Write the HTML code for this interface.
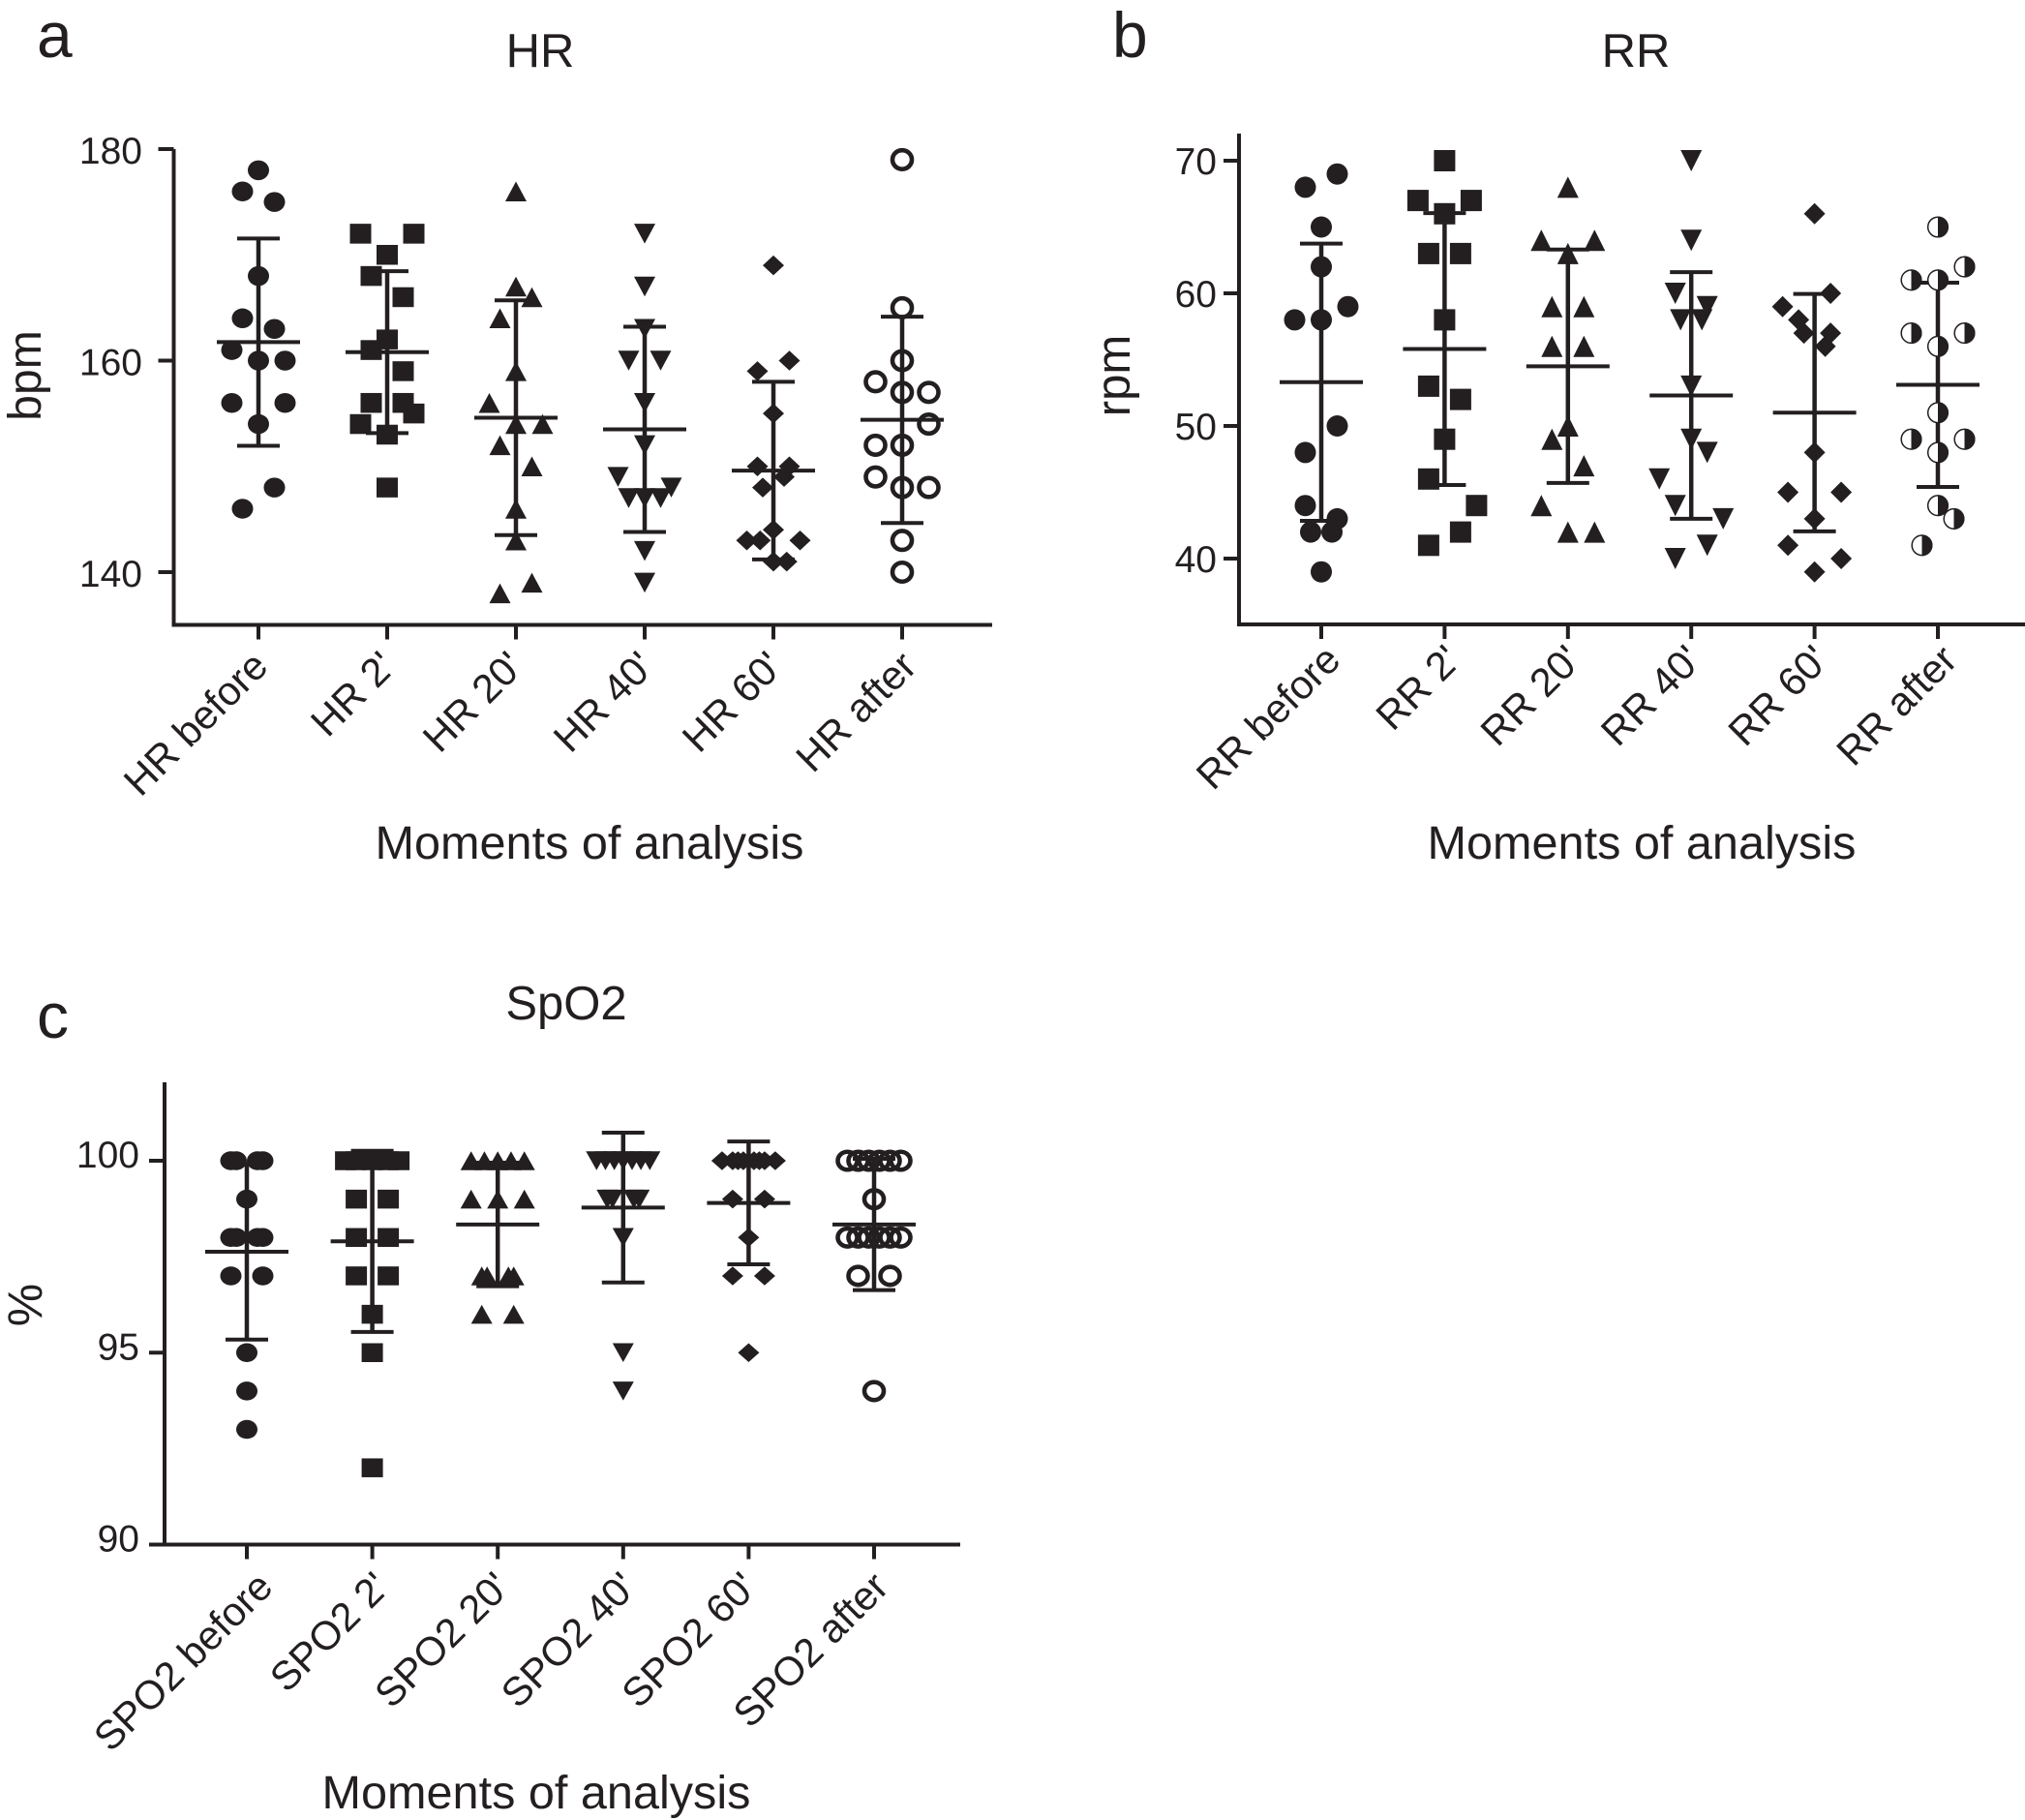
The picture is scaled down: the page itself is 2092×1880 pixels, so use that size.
<!DOCTYPE html>
<html lang="en">
<head>
<meta charset="utf-8">
<title>HR, RR and SpO2 across moments of analysis</title>
<style>
html,body{margin:0;padding:0;background:#fff}
svg{display:block}
text{font-family:"Liberation Sans",Arial,sans-serif;fill:#231f20}
</style>
</head>
<body>
<svg id="figure" xmlns="http://www.w3.org/2000/svg" width="2092" height="1880" viewBox="0 0 2092 1880">
  <rect x="0" y="0" width="2092" height="1880" fill="#fff"/>
  <text x="38" y="59" font-size="66">a</text>
  <text x="1149" y="59" font-size="66">b</text>
  <text x="38" y="1072" font-size="66">c</text>
  <text x="558" y="69" font-size="49" text-anchor="middle">HR</text>
  <text x="1690" y="69" font-size="49" text-anchor="middle">RR</text>
  <text x="585" y="1053" font-size="49" text-anchor="middle">SpO2</text>
  <text x="609" y="887" font-size="48.6" text-anchor="middle">Moments of analysis</text>
  <text x="1696" y="887" font-size="48.6" text-anchor="middle">Moments of analysis</text>
  <text x="554" y="1868" font-size="48.6" text-anchor="middle">Moments of analysis</text>
  <text transform="translate(42 388) rotate(-90)" font-size="48" text-anchor="middle">bpm</text>
  <text transform="translate(1167 388) rotate(-90)" font-size="49" text-anchor="middle">rpm</text>
  <text transform="translate(43 1348) rotate(-90)" font-size="50" text-anchor="middle">%</text>
</svg>
<script>
// ---- HR data ----
const hrCategories = ["HR before", "HR 2'", "HR 20'", "HR 40'", "HR 60'", "HR after"];
const hrTicks = [140, 160, 180];
const hrMeans = [161.75, 160.8, 154.6, 153.5, 149.6, 154.4];
const hrSds = [9.8, 7.65, 11.1, 9.7, 8.4, 9.75];
const hrValues = [
  [178,176,175,168,164,163,161,160,160,156,156,154,148,146],
  [172,172,170,168,166,162,161,159,156,156,155,154,153,148],
  [176,167,166,164,159,156,154,154,152,150,146,143,139,138],
  [172,167,163,160,160,156,152,149,148,147,147,147,142,139],
  [169,160,159,155,150,150,149,148,144,143,143,143,141,141],
  [179,165,160,158,157,157,154,152,152,149,148,148,143,140]
];
const hrSwarmRanks = [
  [0,-3,3,0,-3,3,-5,0,5,-5,5,0,3,-3],
  [-5,5,0,-3,3,0,-3,3,-3,3,5,-5,0,0],
  [0,0,3,-3,0,-5,0,5,-3,3,0,0,3,-3],
  [0,0,0,-3,3,0,0,-5,5,-3,0,3,0,0],
  [0,3,-3,0,-3,3,2,-2,0,-5,-2.5,5,0,2.5],
  [0,0,0,-5,0,5,5,-5,0,-5,0,5,0,0]
];

// ---- RR data ----
const rrCategories = ["RR before", "RR 2'", "RR 20'", "RR 40'", "RR 60'", "RR after"];
const rrTicks = [40, 50, 60, 70];
const rrMeans = [53.3, 55.8, 54.5, 52.3, 51, 53.1];
const rrSds = [10.45, 10.25, 8.8, 9.3, 8.95, 7.7];
const rrValues = [
  [69,68,65,62,59,58,58,50,48,44,43,42,42,39],
  [70,67,67,66,63,63,58,53,52,49,46,44,42,41],
  [68,64,64,63,59,59,56,56,50,49,47,44,42,42],
  [70,64,60,59,58,58,53,49,48,46,44,43,41,40],
  [66,60,59,58,57,57,56,48,45,45,43,41,40,39],
  [65,62,61,61,57,57,56,51,49,49,48,44,43,41]
];
const rrSwarmRanks = [
  [3,-3,0,0,5,-5,0,3,-3,-3,3,-2,2,0],
  [0,-5,5,0,-3,3,0,-3,3,0,-3,6,3,-3],
  [0,-5,5,0,-3,3,-3,3,0,-3,3,-5,0,5],
  [0,0,-3,3,-2,2,0,0,3,-6,-3,6,3,-3],
  [0,3,-6,-3,-2,3,2,0,-5,5,0,-5,5,0],
  [0,5,-5,0,-5,5,0,0,-5,5,0,0,3,-3]
];

// ---- SpO2 data ----
const spoCategories = ["SPO2 before", "SPO2 2'", "SPO2 20'", "SPO2 40'", "SPO2 60'", "SPO2 after"];
const spoTicks = [90, 95, 100];
const spoMeans = [97.63, 97.9, 98.34, 98.78, 98.9, 98.34];
const spoSds = [2.29, 2.36, 1.61, 1.95, 1.6, 1.71];
const spoValues = [
  [100,100,100,100,99,98,98,98,98,97,97,95,94,93],
  [100,100,100,100,100,99,99,98,98,97,97,96,95,92],
  [100,100,100,100,100,99,99,99,97,97,97,97,96,96],
  [100,100,100,100,100,100,100,99,99,99,99,98,95,94],
  [100,100,100,100,100,100,100,100,99,99,98,97,97,95],
  [100,100,100,100,100,100,99,98,98,98,98,98,98,97,97,94]
];
const spoSwarmRanks = [
  [-3,-2,2,3,0,-3,-2,2,3,-3,3,0,0,0],
  [-5,-3,0,3,5,-3,3,-3,3,-3,3,0,0,0],
  [-5,-2.5,0,2.5,5,-5,0,5,-3,-2,2,3,-3,3],
  [-5,-3.33,-1.67,0,1.67,3.33,5,-3,-2,2,3,0,0,0],
  [-5,-3,-2,-1,1,2,3,5,-3,3,0,-3,3,0],
  [-5,-3,-1,1,3,5,0,-5,-3,-1,1,3,5,-3,3,0]
];

const markerShapes = ["circle", "square", "triangle-up", "triangle-down", "diamond", "ring"];
const rrMarkerShapes = ["circle", "square", "triangle-up", "triangle-down", "diamond", "half"];

const INK = "#231f20";
const NS = "http://www.w3.org/2000/svg";
const svg = document.getElementById("figure");

function shape(parent, tag, attrs) {
  const el = document.createElementNS(NS, tag);
  for (const k in attrs) el.setAttribute(k, attrs[k]);
  parent.appendChild(el);
  return el;
}

function seg(parent, x1, y1, x2, y2, w) {
  return shape(parent, "line", {x1: x1, y1: y1, x2: x2, y2: y2, stroke: INK, "stroke-width": w});
}

function drawMarker(parent, kind, x, y, w, h) {
  const rx = w / 2, ry = h / 2;
  let el;
  if (kind === "circle") {
    el = shape(parent, "ellipse", {cx: x, cy: y, rx: rx, ry: ry, fill: INK});
  } else if (kind === "square") {
    el = shape(parent, "rect", {x: x - rx, y: y - ry, width: w, height: h, fill: INK});
  } else if (kind === "triangle-up") {
    el = shape(parent, "polygon", {points: [x, y - ry, x + rx, y + ry, x - rx, y + ry].join(","), fill: INK});
  } else if (kind === "triangle-down") {
    el = shape(parent, "polygon", {points: [x - rx, y - ry, x + rx, y - ry, x, y + ry].join(","), fill: INK});
  } else if (kind === "diamond") {
    el = shape(parent, "polygon", {points: [x, y - ry, x + rx, y, x, y + ry, x - rx, y].join(","), fill: INK});
  } else if (kind === "ring") {
    el = shape(parent, "ellipse", {cx: x, cy: y, rx: rx - 1, ry: ry - 0.5, fill: "none", stroke: INK, "stroke-width": 4.6});
  } else {
    el = shape(parent, "g", {});
    shape(el, "ellipse", {cx: x, cy: y, rx: rx - 0.7, ry: ry - 0.7, fill: "#fff", stroke: INK, "stroke-width": 1.5});
    shape(el, "path", {d: "M" + x + " " + (y - ry) + "A" + rx + " " + ry + " 0 0 1 " + x + " " + (y + ry) + "Z", fill: INK});
  }
  
  
}

function linearScale(d0, d1, r0, r1) {
  return function (v) { return r0 + (v - d0) * (r1 - r0) / (d1 - d0); };
}

function drawPanel(cfg) {
  const g = document.createElementNS(NS, "g");
  
  
  svg.appendChild(g);

  const y = linearScale(cfg.domain[0], cfg.domain[1], cfg.range[0], cfg.range[1]);
  const step = (cfg.lastX - cfg.firstX) / (cfg.categories.length - 1);
  const x = function (i) { return cfg.firstX + i * step; };

  // axes
  const yAxis = seg(g, cfg.axisX, cfg.axisTop, cfg.axisX, cfg.baseline + 2, 4);
  
  
  const xAxis = seg(g, cfg.xAxisStart, cfg.baseline, cfg.axisRight, cfg.baseline, 4);
  
  

  // y ticks
  cfg.ticks.forEach(function (t) {
    const tk = seg(g, cfg.axisX - 16, y(t), cfg.axisX, y(t), 4);
    
    
    const lb = shape(g, "text", {x: cfg.tickLabelX, y: y(t) + cfg.tickLabelDy, "font-size": 39, "text-anchor": "end"});
    lb.textContent = String(t);
    
    
  });

  // categories
  cfg.categories.forEach(function (c, i) {
    const px = x(i);
    const tk = seg(g, px, cfg.baseline, px, cfg.baseline + 15, 4);
    
    
    const ax = px + cfg.labelDx + cfg.labelNudge[i], ay = cfg.baseline + cfg.labelDy;
    const lb = shape(g, "text", {transform: "translate(" + ax + " " + ay + ") rotate(-45)", "font-size": 41.5, "text-anchor": "end"});
    lb.textContent = c;
    
    
  });

  // mean and SD
  cfg.means.forEach(function (m, i) {
    const px = x(i);
    const up = m + cfg.sds[i], lo = m - cfg.sds[i];
    const stem = seg(g, px, y(up), px, y(lo), 4.5);
    
    
    const capU = seg(g, px - 22, y(up), px + 22, y(up), 4);
    
    
    const capL = seg(g, px - 22, y(lo), px + 22, y(lo), 4);
    
    
    const mean = seg(g, px - 43, y(m), px + 43, y(m), 4);
    
    
  });

  // points
  cfg.values.forEach(function (series, i) {
    series.forEach(function (v, j) {
      drawMarker(g, cfg.shapes[i], x(i) + cfg.ranks[i][j] * 5.5, y(v), cfg.markW, cfg.markH);
    });
  });
}

drawPanel({
  name: "hr-chart", categories: hrCategories, ticks: hrTicks, means: hrMeans, sds: hrSds,
  values: hrValues, ranks: hrSwarmRanks, shapes: markerShapes,
  domain: [140, 180], range: [591, 154], axisX: 179.5, axisTop: 154, baseline: 645.5, xAxisStart: 178,
  axisRight: 1025, firstX: 267, lastX: 932, tickLabelX: 147, tickLabelDy: 15, labelDx: 12, labelDy: 45, labelNudge: [0, -1, -2, 0, 0, 5], markW: 22, markH: 20.5
});
drawPanel({
  name: "rr-chart", categories: rrCategories, ticks: rrTicks, means: rrMeans, sds: rrSds,
  values: rrValues, ranks: rrSwarmRanks, shapes: rrMarkerShapes,
  domain: [40, 70], range: [577, 166], axisX: 1280, axisTop: 138, baseline: 645, xAxisStart: 1278,
  axisRight: 2092, firstX: 1365, lastX: 2002, tickLabelX: 1257, tickLabelDy: 14, labelDx: 22, labelDy: 39, labelNudge: [0, -3, -6, -9, -5, 0], markW: 22, markH: 22
});
drawPanel({
  name: "spo2-chart", categories: spoCategories, ticks: spoTicks, means: spoMeans, sds: spoSds,
  values: spoValues, ranks: spoSwarmRanks, shapes: markerShapes,
  domain: [90, 100], range: [1595.5, 1199], axisX: 170, axisTop: 1118, baseline: 1595.5, xAxisStart: 154,
  axisRight: 992, firstX: 255, lastX: 903, tickLabelX: 144, tickLabelDy: 7, labelDx: 29, labelDy: 46, labelNudge: [0, -9, -14, -13, -18, -12], markW: 22, markH: 19.5
});
</script>
</body>
</html>
